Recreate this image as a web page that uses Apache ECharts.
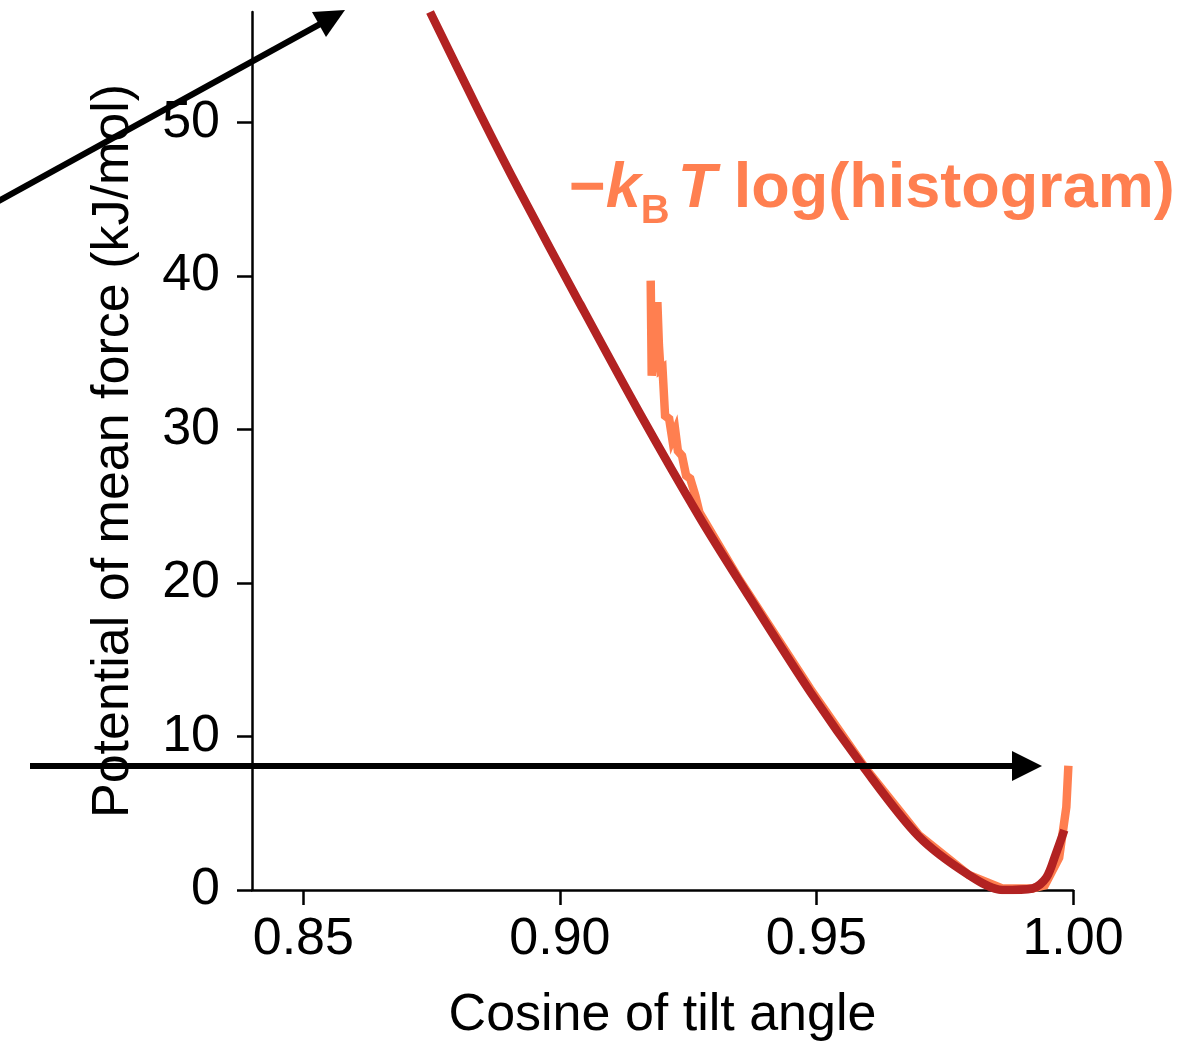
<!DOCTYPE html>
<html>
<head>
<meta charset="utf-8">
<script src="https://cdn.jsdelivr.net/npm/echarts@6/dist/echarts.min.js"></script>
<style>
html,body{margin:0;padding:0;background:#fff;}
#chart{width:1188px;height:1045px;}
</style>
</head>
<body>
<div id="chart"></div>
<script>
// Tick labels
const xTicks = [0.85, 0.90, 0.95, 1.00];
const yTicks = [0, 10, 20, 30, 40, 50];

// Potential of mean force (dark red)
const pmfX = [0.8747, 0.8844, 0.8922, 0.9039, 0.9155, 0.9272, 0.9350, 0.9488, 0.9594, 0.9699, 0.9796, 0.9862, 0.9921, 0.9948, 0.9967, 0.9983];
const pmfY = [57.2, 50.6, 45.5, 38.2, 31.1, 24.3, 20.1, 12.9, 7.9, 3.5, 1.0, 0.0, 0.1, 0.8, 2.4, 3.9];

// -kB T log(histogram) (orange)
const histX = [0.9177, 0.9179, 0.9190, 0.9193, 0.9196, 0.9200, 0.9205, 0.9213, 0.9219, 0.9225, 0.9230, 0.9238, 0.9246, 0.9254, 0.9264, 0.9272, 0.9350, 0.9488, 0.9594, 0.9699, 0.9796, 0.9862, 0.9921, 0.9945, 0.9973, 0.9987, 0.9991];
const histY = [39.7, 33.5, 38.3, 35.5, 33.9, 34.0, 30.9, 30.7, 29.4, 29.9, 28.6, 28.3, 27.0, 26.8, 25.7, 24.6, 20.2, 13.1, 8.0, 3.6, 1.0, 0.1, 0.1, 0.3, 2.1, 5.4, 8.1];

const xMin = 0.84, xMax = 1.0, yMin = 0, yMax = 57.2;

const chart = echarts.init(document.getElementById('chart'));
const FONT = '"Liberation Sans", Arial, Helvetica, sans-serif';
const ORANGE = '#ff7f50';

chart.setOption({
  animation: false,
  backgroundColor: '#ffffff',
  grid: { left: 252, right: 115, top: 12, bottom: 155, containLabel: false, outerBoundsMode: 'none' },
  xAxis: {
    type: 'value', min: xMin, max: xMax,
    name: 'Cosine of tilt angle', nameLocation: 'middle', nameGap: 100,
    nameTextStyle: { fontFamily: FONT, fontSize: 52, color: '#000' },
    axisLine: { show: true, onZero: false, lineStyle: { color: '#000', width: 2.5 } },
    axisTick: { show: true, length: 15, lineStyle: { color: '#000', width: 2.5 }, customValues: xTicks },
    axisLabel: { fontFamily: FONT, fontSize: 52, color: '#000', margin: 24, customValues: xTicks,
      formatter: v => v.toFixed(2) },
    splitLine: { show: false }
  },
  yAxis: {
    type: 'value', min: yMin, max: yMax,
    name: 'Potential of mean force (kJ/mol)', nameLocation: 'middle', nameGap: 112,
    nameTextStyle: { fontFamily: FONT, fontSize: 52, color: '#000' },
    axisLine: { show: true, onZero: false, lineStyle: { color: '#000', width: 2.5 } },
    axisTick: { show: true, length: 15, lineStyle: { color: '#000', width: 2.5 }, customValues: yTicks },
    axisLabel: { fontFamily: FONT, fontSize: 52, color: '#000', margin: 32, customValues: yTicks },
    splitLine: { show: false }
  },
  series: [
    {
      type: 'line', name: 'hist', showSymbol: false, smooth: false, z: 2,
      data: histX.map((x, i) => [x, histY[i]]),
      lineStyle: { color: ORANGE, width: 8.5, join: 'miter' }
    },
    {
      type: 'line', name: 'pmf', showSymbol: false, smooth: 0.3, z: 3,
      data: pmfX.map((x, i) => [x, pmfY[i]]),
      lineStyle: { color: '#b22222', width: 8.5 }
    }
  ],
  graphic: [
    {
      type: 'text', left: 569, top: 158, z: 10,
      style: {
        text: '{a|−}{k|k}{b|B}{t|T}{n| log(histogram)}',
        rich: {
          a: { fontFamily: FONT, fontWeight: 'bold', fontSize: 63, fill: ORANGE, lineHeight: 72, verticalAlign: 'top' },
          k: { fontFamily: FONT, fontWeight: 'bold', fontStyle: 'italic', fontSize: 63, fill: ORANGE, lineHeight: 72, verticalAlign: 'top' },
          b: { fontFamily: FONT, fontWeight: 'bold', fontSize: 40, fill: ORANGE, lineHeight: 40, verticalAlign: 'top', padding: [34, 8, 0, 0] },
          t: { fontFamily: FONT, fontWeight: 'bold', fontStyle: 'italic', fontSize: 63, fill: ORANGE, lineHeight: 72, verticalAlign: 'top' },
          n: { fontFamily: FONT, fontWeight: 'bold', fontSize: 63, fill: ORANGE, lineHeight: 72, verticalAlign: 'top' }
        }
      }
    },
    { type: 'line', z: 20, shape: { x1: 30, y1: 766, x2: 1015, y2: 766 }, style: { stroke: '#000', lineWidth: 6 } },
    { type: 'polygon', z: 20, shape: { points: [[1042, 766], [1012, 751], [1012, 781]] }, style: { fill: '#000' } },
    { type: 'line', z: 20, shape: { x1: -5, y1: 203, x2: 322, y2: 23 }, style: { stroke: '#000', lineWidth: 6 } },
    { type: 'polygon', z: 20, shape: { points: [[345, 10], [312, 12], [326, 37]] }, style: { fill: '#000' } }
  ]
});
</script>
</body>
</html>
